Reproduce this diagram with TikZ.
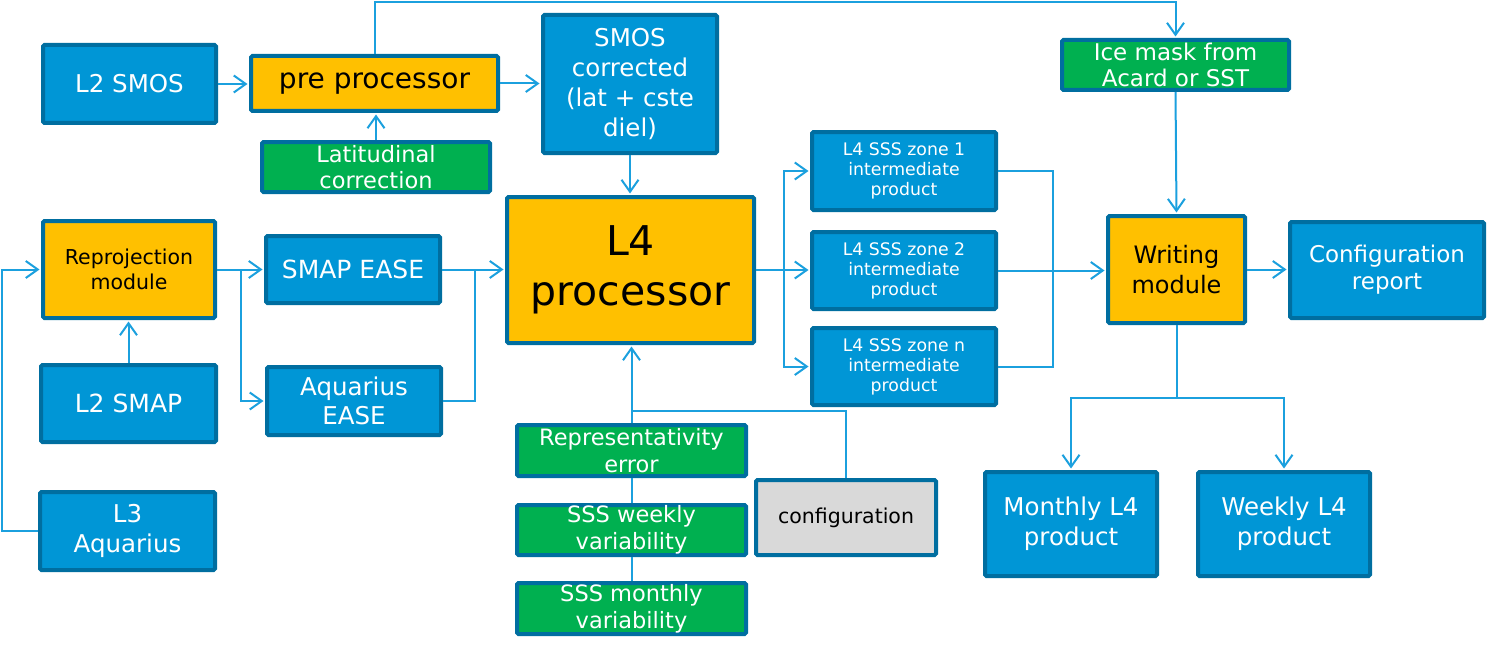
\documentclass[tikz,border=0pt]{standalone}
\usepackage{fontspec}
\setmainfont{DejaVu Sans}
\usetikzlibrary{arrows.meta}
\definecolor{bfill}{RGB}{0,150,214}
\definecolor{bdraw}{RGB}{0,110,160}
\definecolor{yfill}{RGB}{255,192,0}
\definecolor{gfill}{RGB}{0,176,80}
\definecolor{grfill}{RGB}{217,217,217}
\definecolor{conn}{RGB}{27,160,222}
\newcommand\setfs[2]{\fontsize{#1}{#2}\selectfont}
\begin{document}
\begin{tikzpicture}[x=1pt,y=-1pt,
 box/.style={draw=bdraw,line width=4pt,rounded corners=1.5pt,inner sep=0pt,align=center},
 bluebox/.style={box,fill=bfill,text=white},
 yelbox/.style={box,fill=yfill,text=black},
 grnbox/.style={box,fill=gfill,text=white},
 grybox/.style={box,fill=grfill,text=black},
 wire/.style={draw=conn,line width=2pt},
 arr/.style={wire,shorten >=1.5pt,-{Straight Barb[length=12pt,width=17pt]}}
]
\useasboundingbox (0,0) rectangle (1487,650);

% nodes
\node[bluebox,minimum width=173pt,minimum height=78pt,font=\setfs{24.5}{29}] (smos) at (129.5,84) {L2 SMOS};
\node[yelbox,minimum width=247pt,minimum height=55pt,font=\setfs{28}{32}] (pre) at (374.5,83.5) {pre processor};
\node[grnbox,minimum width=228pt,minimum height=50pt,font=\setfs{22.5}{26}] (lat) at (376,167) {Latitudinal\\correction};
\node[bluebox,minimum width=174pt,minimum height=138pt,font=\setfs{24.5}{30}] (smosc) at (630,84) {SMOS\\corrected\\(lat + cste\\diel)};
\node[grnbox,minimum width=227pt,minimum height=50pt,font=\setfs{23}{26}] (ice) at (1175.5,65) {Ice mask from\\Acard or SST};
\node[yelbox,minimum width=247pt,minimum height=146pt,font=\setfs{41}{50}] (l4) at (630.5,270) {L4\\processor};
\node[yelbox,minimum width=172pt,minimum height=97pt,font=\setfs{20.5}{25}] (repro) at (129,269.5) {Reprojection\\module};
\node[bluebox,minimum width=174pt,minimum height=67pt,font=\setfs{25}{29}] (smap) at (353,269.5) {SMAP EASE};
\node[bluebox,minimum width=174pt,minimum height=68pt,font=\setfs{24.5}{29}] (aqe) at (354,401) {Aquarius\\EASE};
\node[bluebox,minimum width=175pt,minimum height=77pt,font=\setfs{25}{29}] (l2smap) at (128.5,403.5) {L2 SMAP};
\node[bluebox,minimum width=175pt,minimum height=78pt,font=\setfs{24.5}{30}] (l3) at (127.5,531) {L3\\Aquarius};
\node[bluebox,minimum width=184pt,minimum height=78pt,font=\setfs{17.3}{20}] (z1) at (904,171) {L4 SSS zone 1\\intermediate\\product};
\node[bluebox,minimum width=184pt,minimum height=77pt,font=\setfs{17.3}{20}] (z2) at (904,270.5) {L4 SSS zone 2\\intermediate\\product};
\node[bluebox,minimum width=184pt,minimum height=77pt,font=\setfs{17.3}{20}] (zn) at (904,366.5) {L4 SSS zone n\\intermediate\\product};
\node[yelbox,minimum width=137pt,minimum height=107pt,font=\setfs{24}{30}] (wr) at (1176.5,269.5) {Writing\\module};
\node[bluebox,minimum width=194pt,minimum height=96pt,font=\setfs{23}{27}] (cfgr) at (1387,270) {Configuration\\report};
\node[grnbox,minimum width=229pt,minimum height=51pt,font=\setfs{22.5}{27}] (rep) at (631.5,450.5) {Representativity\\error};
\node[grnbox,minimum width=229pt,minimum height=50pt,font=\setfs{22.5}{27}] (wk) at (631.5,530) {SSS weekly\\variability};
\node[grnbox,minimum width=229pt,minimum height=51pt,font=\setfs{22.5}{27}] (mo) at (631.5,608.5) {SSS monthly\\variability};
\node[grybox,minimum width=180pt,minimum height=75pt,font=\setfs{20.5}{25}] (cfg) at (846,517.5) {configuration};
\node[bluebox,minimum width=172pt,minimum height=104pt,font=\setfs{24.5}{30}] (mon) at (1071,524) {Monthly L4\\product};
\node[bluebox,minimum width=172pt,minimum height=104pt,font=\setfs{24.5}{30}] (wkl) at (1284,524) {Weekly L4\\product};

% junction coordinates
\coordinate (topy) at (0,2);
\coordinate (b1) at (241,269.5);
\coordinate (b2) at (475,270);
\coordinate (lx) at (2,0);
\coordinate (b3) at (784,270);
\coordinate (b4) at (1053,270);
\coordinate (b5) at (1176.5,398);
\coordinate (b6) at (631.5,411);

% connectors
\draw[arr] (smos.east) -- (pre.west |- smos.east);
\draw[arr] (pre.east) -- (smosc.west |- pre.east);
\draw[arr] (lat.north) -- (lat.north |- pre.south);
\draw[arr] (pre.north) -- (pre.north |- topy) -| (ice.north);
\draw[arr] (smosc.south) -- (smosc.south |- l4.north);
\draw[arr] (ice.south) -- (wr.north);
\draw[arr] (repro.east) -- (smap.west);
\draw[arr] (b1) |- (aqe.west);
\draw[arr] (smap.east) -- (l4.west |- smap.east);
\draw[wire] (aqe.east) -| (b2);
\draw[arr] (l2smap.north) -- (l2smap.north |- repro.south);
\draw[arr] (l3.west) -- (l3.west -| lx) |- (repro.west);
\draw[arr] (l4.east) -- (z2.west |- l4.east);
\draw[arr] (b3) |- (z1.west);
\draw[arr] (b3) |- (zn.west);
\draw[wire] (z1.east) -| (b4);
\draw[wire] (zn.east) -| (b4);
\draw[arr] (z2.east) -- (wr.west |- z2.east);
\draw[arr] (wr.east) -- (cfgr.west |- wr.east);
\draw[wire] (wr.south) -- (b5);
\draw[arr] (b5) -| (mon.north);
\draw[arr] (b5) -| (wkl.north);
\draw[arr] (rep.north) -- (rep.north |- l4.south);
\draw[wire] (cfg.north) |- (b6);
\draw[wire] (rep.south) -- (wk.north);
\draw[wire] (wk.south) -- (mo.north);
\end{tikzpicture}
\end{document}
